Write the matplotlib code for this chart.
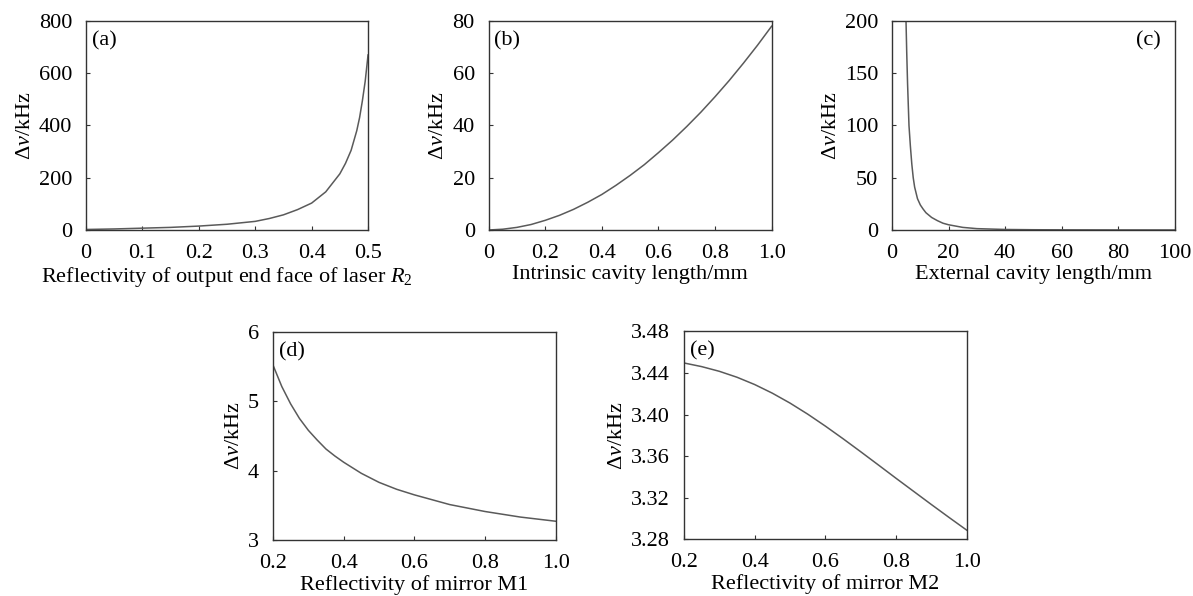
import matplotlib
matplotlib.use("Agg")
import matplotlib.pyplot as plt

plt.rcParams['font.family'] = ['Liberation Serif', 'DejaVu Serif']
plt.rcParams['mathtext.fontset'] = 'custom'
plt.rcParams['mathtext.rm'] = 'Liberation Serif'
plt.rcParams['mathtext.it'] = 'Liberation Serif:italic'
plt.rcParams['font.size'] = 16

# (a) reflectivity of output end face R2 vs linewidth (kHz)
a_x = [0, 0.05, 0.1, 0.15, 0.2, 0.25, 0.3, 0.325, 0.35, 0.375, 0.4, 0.425,
       0.45, 0.46, 0.47, 0.48, 0.485, 0.49, 0.495, 0.5]
a_y = [2, 4, 7, 10, 15, 22, 33, 44, 58, 78, 103, 146, 215, 255, 305, 380,
       430, 495, 570, 670]

# (b) intrinsic cavity length (mm)
b_x = [0, 0.05, 0.1, 0.15, 0.2, 0.25, 0.3, 0.35, 0.4, 0.45, 0.5, 0.55, 0.6,
       0.65, 0.7, 0.75, 0.8, 0.85, 0.9, 0.95, 1.0]
b_y = [0, 0.3, 1.0, 2.1, 3.7, 5.6, 7.9, 10.6, 13.6, 17.1, 20.9, 25.0, 29.6,
       34.4, 39.6, 45.1, 51.0, 57.2, 63.8, 70.7, 78.0]

# (c) external cavity length (mm)
c_x = [4.95, 5.2, 5.5, 6, 6.5, 7, 7.5, 8, 9, 10, 11, 12, 14, 16, 18, 20, 25,
       30, 40, 50, 60, 80, 100]
c_y = [200, 170, 140, 100, 80, 63, 50, 41, 30, 24, 20, 16.5, 12, 9, 6.5, 5,
       2.5, 1.3, 0.5, 0.25, 0.15, 0.06, 0.03]

# (d) reflectivity of mirror M1
d_x = [0.2, 0.225, 0.25, 0.275, 0.3, 0.325, 0.35, 0.375, 0.4, 0.45, 0.5,
       0.55, 0.6, 0.7, 0.8, 0.9, 1.0]
d_y = [5.52, 5.21, 4.96, 4.75, 4.58, 4.44, 4.31, 4.21, 4.12, 3.96, 3.83,
       3.73, 3.65, 3.51, 3.41, 3.33, 3.27]

# (e) reflectivity of mirror M2
e_x = [0.2, 0.25, 0.3, 0.35, 0.4, 0.45, 0.5, 0.55, 0.6, 0.65, 0.7, 0.75,
       0.8, 0.85, 0.9, 0.95, 1.0]
e_y = [3.4495, 3.4460, 3.4415, 3.4358, 3.4288, 3.4205, 3.4110, 3.4004,
       3.3889, 3.3768, 3.3643, 3.3516, 3.3388, 3.3262, 3.3136, 3.3012, 3.2890]

fig = plt.figure(figsize=(11.93, 5.96), dpi=100)

line_color = '#5a5a5a'
spine_color = '#333333'

def style(ax):
    for s in ax.spines.values():
        s.set_color(spine_color)
        s.set_linewidth(1.0)
    ax.tick_params(direction='in', length=3, width=0.8, color=spine_color,
                   labelsize=16, pad=10)

ylabel = r'$\Delta\nu$/kHz'

panels = [
    ([0.0721, 0.6141, 0.2364, 0.3507], a_x, a_y, (0, 0.5), [0, 0.1, 0.2, 0.3, 0.4, 0.5],
     ['0', '0.1', '0.2', '0.3', '0.4', '0.5'], (0, 800), [0, 200, 400, 600, 800],
     ['0', '200', '400', '600', '800'],
     r'Reflectivity of output end face of laser $R_2$', '(a)', 'left'),
    ([0.4096, 0.6141, 0.2372, 0.3507], b_x, b_y, (0, 1.0), [0, 0.2, 0.4, 0.6, 0.8, 1.0],
     ['0', '0.2', '0.4', '0.6', '0.8', '1.0'], (0, 80), [0, 20, 40, 60, 80],
     ['0', '20', '40', '60', '80'],
     'Intrinsic cavity length/mm', '(b)', 'left'),
    ([0.7477, 0.6141, 0.2372, 0.3507], c_x, c_y, (0, 100), [0, 20, 40, 60, 80, 100],
     ['0', '20', '40', '60', '80', '100'], (0, 200), [0, 50, 100, 150, 200],
     ['0', '50', '100', '150', '200'],
     'External cavity length/mm', '(c)', 'right'),
    ([0.2288, 0.0940, 0.2370, 0.3495], d_x, d_y, (0.2, 1.0), [0.2, 0.4, 0.6, 0.8, 1.0],
     ['0.2', '0.4', '0.6', '0.8', '1.0'], (3, 6), [3, 4, 5, 6],
     ['3', '4', '5', '6'],
     'Reflectivity of mirror M1', '(d)', 'left'),
    ([0.5733, 0.0948, 0.2370, 0.3495], e_x, e_y, (0.2, 1.0), [0.2, 0.4, 0.6, 0.8, 1.0],
     ['0.2', '0.4', '0.6', '0.8', '1.0'], (3.28, 3.48), [3.28, 3.32, 3.36, 3.40, 3.44, 3.48],
     ['3.28', '3.32', '3.36', '3.40', '3.44', '3.48'],
     'Reflectivity of mirror M2', '(e)', 'left'),
]

for rect, xs, ys, xlim, xt, xtl, ylim, yt, ytl, xlabel, tag, side in panels:
    ax = fig.add_axes(rect)
    ax.plot(xs, ys, color=line_color, linewidth=1.1, clip_on=True)
    ax.set_xlim(*xlim)
    ax.set_ylim(*ylim)
    ax.set_xticks(xt)
    ax.set_xticklabels(xtl)
    ax.set_yticks(yt)
    ax.set_yticklabels(ytl)
    ax.set_xlabel(xlabel, fontsize=16, labelpad=1.5)
    ax.set_ylabel(ylabel, fontsize=16, labelpad=3)
    style(ax)
    if side == 'left':
        ax.text(0.02, 0.95, tag, transform=ax.transAxes, ha='left', va='top', fontsize=16)
    else:
        ax.text(0.95, 0.95, tag, transform=ax.transAxes, ha='right', va='top', fontsize=16)

fig.savefig('out.png', dpi=100)
